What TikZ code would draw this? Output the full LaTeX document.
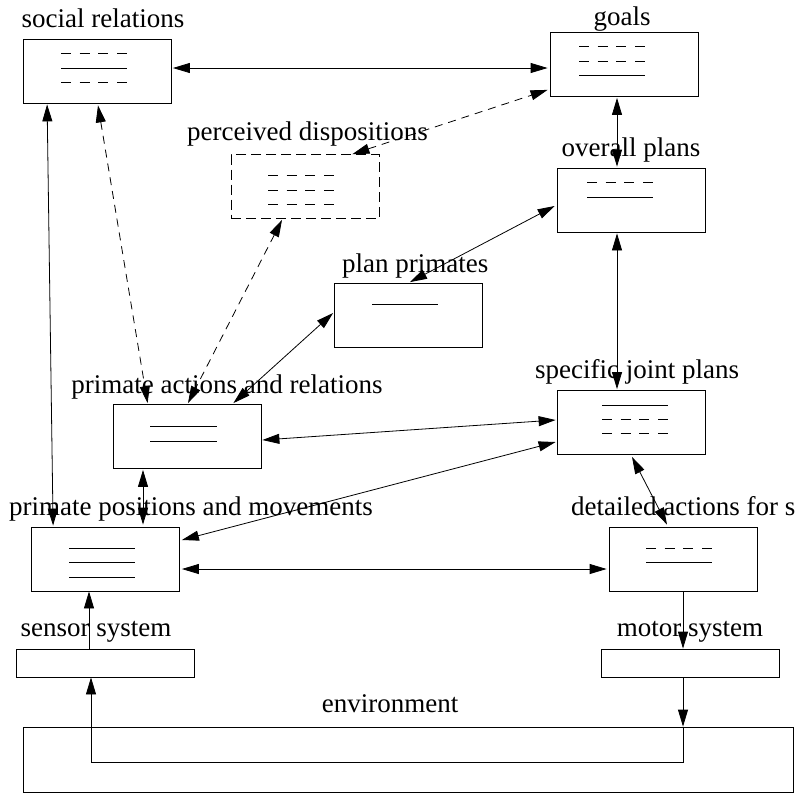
\documentclass[tikz,border=0pt]{standalone}
\usepackage{fontspec}
\setmainfont{Liberation Serif}
\usetikzlibrary{arrows.meta,calc}
\begin{document}
\begin{tikzpicture}[x=1pt,y=-1pt,
  bigtri/.tip={Triangle[length=17pt,width=10pt]},
  box/.style={draw,line width=0.8pt,rectangle,inner sep=0pt,minimum width=148pt,minimum height=64pt},
  dbox/.style={box,dash pattern=on 10pt off 5pt},
  slim/.style={draw,line width=0.8pt,rectangle,inner sep=0pt,minimum width=178pt,minimum height=28pt},
  lbl/.style={inner sep=0pt,font=\fontsize{27}{32}\selectfont},
  link/.style={line width=0.8pt,bigtri-bigtri},
  dlink/.style={link,dash pattern=on 8pt off 6pt},
  oneway/.style={line width=0.8pt,-bigtri},
  solidln/.style={line width=0.8pt},
  dashln/.style={line width=0.8pt,dash pattern=on 10pt off 8.67pt}]
\useasboundingbox (0,0) rectangle (797,793);

% boxes
\node[box] (soc) at (97.5,71) {};
\node[box] (goals) at (624,64.5) {};
\node[box] (overall) at (631,200) {};
\node[dbox] (perc) at (305,186.5) {};
\node[box] (planp) at (408.5,315.5) {};
\node[box] (actions) at (187,436.5) {};
\node[box] (specific) at (631,422.5) {};
\node[box] (positions) at (105.5,559) {};
\node[box] (detailed) at (683,559) {};
\node[slim] (sensor) at (105,663) {};
\node[slim] (motor) at (690,663) {};
\node[draw,line width=0.8pt,inner sep=0pt,minimum width=770pt,minimum height=65pt] (env) at (408,759.5) {};

% labels
\node[lbl,anchor=base] (tsoc) at (103,27) {social relations};
\node[lbl,anchor=base] (tgoals) at (622,25) {goals};
\node[lbl,anchor=base west] (tperc) at (187,140) {perceived dispositions};
\node[lbl,anchor=base] (toverall) at (631,156) {overall plans};
\node[lbl,anchor=base west] (tplanp) at (342,272) {plan primates};
\node[lbl,anchor=base] (tactions) at (227,393) {primate actions and relations};
\node[lbl,anchor=base] (tspecific) at (637,378) {specific joint plans};
\node[lbl,anchor=base west] (tpositions) at (9,515) {primate positions and movements};
\node[lbl,anchor=base west] (tdetailed) at (571,515) {detailed actions for s};
\node[lbl,anchor=base] (tsensor) at (96,636) {sensor system};
\node[lbl,anchor=base] (tmotor) at (690,636) {motor system};
\node[lbl,anchor=base] (tenv) at (390,712) {environment};

% contents of the boxes
\draw[dashln] (61,53) -- (127,53);
\draw[solidln] (61,68) -- (127,68);
\draw[dashln] (61,82) -- (127,82);

\draw[dashln] (579,46) -- (645,46);
\draw[dashln] (579,61) -- (645,61);
\draw[solidln] (579,75) -- (645,75);

\draw[dashln] (587,182) -- (653,182);
\draw[solidln] (587,197) -- (653,197);

\draw[dashln] (268,175) -- (334,175);
\draw[dashln] (268,190) -- (334,190);
\draw[dashln] (268,204) -- (334,204);

\draw[solidln] (372,304) -- (438,304);

\draw[solidln] (150,426) -- (217,426);
\draw[solidln] (150,441) -- (217,441);

\draw[solidln] (602,405) -- (668,405);
\draw[dashln] (602,419) -- (668,419);
\draw[dashln] (602,433) -- (668,433);

\draw[solidln] (69,548) -- (135,548);
\draw[solidln] (69,562) -- (135,562);
\draw[solidln] (69,577) -- (135,577);

\draw[dashln] (646,548) -- (712,548);
\draw[solidln] (646,562) -- (712,562);

% connectors
\draw[link] ($(soc.east)+(1,-3)$) -- ($(goals.west)+(-2,3.5)$);
\draw[link] ($(goals.south)+(-7,1)$) -- ($(overall.north)+(-14,-1)$);
\draw[dlink] ($(perc.north east)+(-27,0)$) -- ($(goals.south west)+(-2,-7)$);
\draw[dlink] ($(soc.south)+(0.5,2)$) -- ($(actions.north west)+(35,-1)$);
\draw[dlink] ($(perc.south)+(-23,1)$) -- ($(actions.north)+(1,-1)$);
\draw[link] ($(planp.west)+(-1,-2.5)$) -- ($(actions.north east)+(-28,-1)$);
\draw[link] ($(planp.north)+(1.5,-1)$) -- ($(overall.west)+(-2,6)$);
\draw[link] ($(overall.south)+(-14,1)$) -- ($(specific.north)+(-14,-1)$);
\draw[link] ($(actions.east)+(1,3.5)$) -- ($(specific.west)+(-1,-2.5)$);
\draw[link] ($(positions.east)+(2,-19)$) -- ($(specific.west)+(-1,19.5)$);
\draw[link] ($(positions.east)+(2,10)$) -- ($(detailed.west)+(-2,10)$);
\draw[link] ($(actions.south)+(-44,1)$) -- ($(positions.north)+(37.5,-2)$);
\draw[link] ($(specific.south)+(1,2)$) -- ($(detailed.north)+(-16,-2)$);
\draw[link] ($(soc.south west)+(24,1)$) -- ($(positions.north west)+(22,-1)$);
\draw[oneway] ($(sensor.north)+(-16,0)$) -- ($(positions.south)+(-16.5,0)$);
\draw[oneway] ($(detailed.south)+(0,0)$) -- ($(motor.north)+(-7,0)$);
\coordinate (envin) at ($(motor.south)+(-7,0)$);
\draw[oneway] (envin) -- (envin |- env.north);
\draw[oneway] (envin |- env.north) -- ++(0,36) -| ($(sensor.south)+(-14,0)$);
\end{tikzpicture}
\end{document}
